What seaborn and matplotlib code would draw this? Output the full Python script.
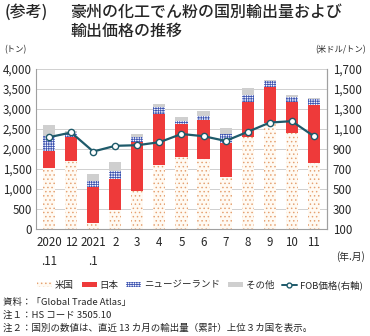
import matplotlib
matplotlib.use("Agg")
import matplotlib.pyplot as plt
import seaborn as sns
import numpy as np
import pandas as pd
from matplotlib.patches import Patch
from matplotlib.lines import Line2D

sns.set_style("white")
plt.rcParams['font.family'] = ['Noto Sans CJK JP', 'DejaVu Sans']
plt.rcParams['hatch.linewidth'] = 0.55

months = ["2020\n.11", "12", "2021\n.1", "2", "3", "4", "5", "6", "7", "8", "9", "10", "11"]
usa = [1520, 1700, 160, 480, 950, 1600, 1800, 1750, 1290, 2310, 2650, 2400, 1660]
japan = [430, 590, 880, 780, 1220, 1280, 820, 970, 850, 870, 910, 780, 1450]
nz = [370, 100, 170, 200, 120, 160, 80, 110, 240, 170, 140, 120, 150]
other = [280, 60, 160, 220, 90, 80, 100, 120, 140, 180, 30, 60, 25]
fob = [1018, 1065, 875, 932, 938, 968, 1050, 1028, 981, 1071, 1164, 1178, 1028]

series_names = ["米国", "日本", "ニュージーランド", "その他"]
df = pd.DataFrame({"month": months, "米国": usa, "日本": japan,
                   "ニュージーランド": nz, "その他": other})
cum = df[series_names].cumsum(axis=1)

styles = {
    "米国": dict(facecolor="#FFFAF3", edgecolor="#E5A070", hatch="...."),
    "日本": dict(facecolor="#EE3A3A", edgecolor="#EE3A3A", hatch=None),
    "ニュージーランド": dict(facecolor="#F4F6FF", edgecolor="#3F55B0", hatch="+++++++"),
    "その他": dict(facecolor="#CFCFCF", edgecolor="#CFCFCF", hatch=None),
}

fig = plt.figure(figsize=(3.70, 3.36), dpi=100)
ax = fig.add_axes([0.097, 0.318, 0.787, 0.477])

for name in reversed(series_names):
    st = styles[name]
    sns.barplot(x=df["month"], y=cum[name], ax=ax, width=0.55,
                color=st["facecolor"], saturation=1, linewidth=0, zorder=2)
    for p in ax.patches[-len(months):]:
        p.set_facecolor(st["facecolor"])
        p.set_edgecolor(st["edgecolor"])
        p.set_linewidth(0)
        if st["hatch"]:
            p.set_hatch(st["hatch"])

ax.set_ylim(0, 4000)
ax.set_yticks(np.arange(0, 4001, 500))
ax.set_yticklabels([f"{v:,}" for v in range(0, 4001, 500)], fontsize=8.3)
ax.set_xlim(-0.6, len(months) - 0.4)
ax.set_xticks(range(len(months)))
ax.set_xticklabels(months, fontsize=8.3, linespacing=1.6, va="top")
ax.set_xlabel("")
ax.set_ylabel("")
ax.yaxis.grid(True, color="#D0D0D0", linewidth=0.7, zorder=0)
ax.set_axisbelow(True)
ax.spines["top"].set_visible(False)
for s in ["left", "right", "bottom"]:
    ax.spines[s].set_color("#A0A0A0")
    ax.spines[s].set_linewidth(0.8)
ax.tick_params(axis="both", length=0, pad=3)
ax.tick_params(axis="x", pad=5)

ax2 = ax.twinx()
sns.lineplot(x=np.arange(len(months)), y=fob, ax=ax2, color="#1E5A6A",
             linewidth=1.6, marker="o", markersize=4.5, markerfacecolor="white",
             markeredgecolor="#1E5A6A", markeredgewidth=1.0, zorder=5)
ax2.set_ylim(100, 1700)
ax2.set_yticks(np.arange(100, 1701, 200))
ax2.set_yticklabels([f"{v:,}" for v in range(100, 1701, 200)], fontsize=8.3)
ax2.tick_params(axis="y", length=0, pad=4)
ax2.set_ylabel("")
for s in ["top", "left", "bottom"]:
    ax2.spines[s].set_visible(False)
ax2.spines["right"].set_color("#A0A0A0")
ax2.spines["right"].set_linewidth(0.8)

fig.text(0.012, 0.962, "(参考)", fontsize=11.5, va="center", ha="left", fontweight="medium")
fig.text(0.19, 0.962, "豪州の化工でん粉の国別輸出量および", fontsize=11.5, va="center", ha="left", fontweight="medium")
fig.text(0.19, 0.905, "輸出価格の推移", fontsize=11.5, va="center", ha="left", fontweight="medium")
fig.text(0.012, 0.852, "(トン)", fontsize=6, va="center", ha="left")
fig.text(0.99, 0.852, "(米ドル/トン)", fontsize=6, va="center", ha="right")
fig.text(0.985, 0.237, "(年.月)", fontsize=7, va="center", ha="right")

handles = [
    Patch(facecolor=styles["米国"]["facecolor"], edgecolor=styles["米国"]["edgecolor"], hatch="....", linewidth=0),
    Patch(facecolor=styles["日本"]["facecolor"], linewidth=0),
    Patch(facecolor=styles["ニュージーランド"]["facecolor"], edgecolor=styles["ニュージーランド"]["edgecolor"], hatch="+++++++", linewidth=0),
    Patch(facecolor=styles["その他"]["facecolor"], linewidth=0),
    Line2D([0], [0], color="#1E5A6A", linewidth=1.4, marker="o", markersize=3.5,
           markerfacecolor="white", markeredgecolor="#1E5A6A"),
]
labels = ["米国", "日本", "ニュージーランド", "その他", "FOB価格(右軸)"]
fig.legend(handles, labels, loc="center", bbox_to_anchor=(0.54, 0.152), ncol=5,
           frameon=False, fontsize=6.8, handlelength=1.6, handleheight=0.5,
           handletextpad=0.3, columnspacing=0.8)

fig.text(0.008, 0.1, "資料：「Global Trade Atlas」", fontsize=6.8, va="center", ha="left")
fig.text(0.008, 0.062, "注１：HS コード 3505.10", fontsize=6.8, va="center", ha="left")
fig.text(0.008, 0.024, "注２：国別の数値は、直近 13 カ月の輸出量（累計）上位３カ国を表示。", fontsize=6.8, va="center", ha="left")

fig.savefig("out.png", dpi=100)
